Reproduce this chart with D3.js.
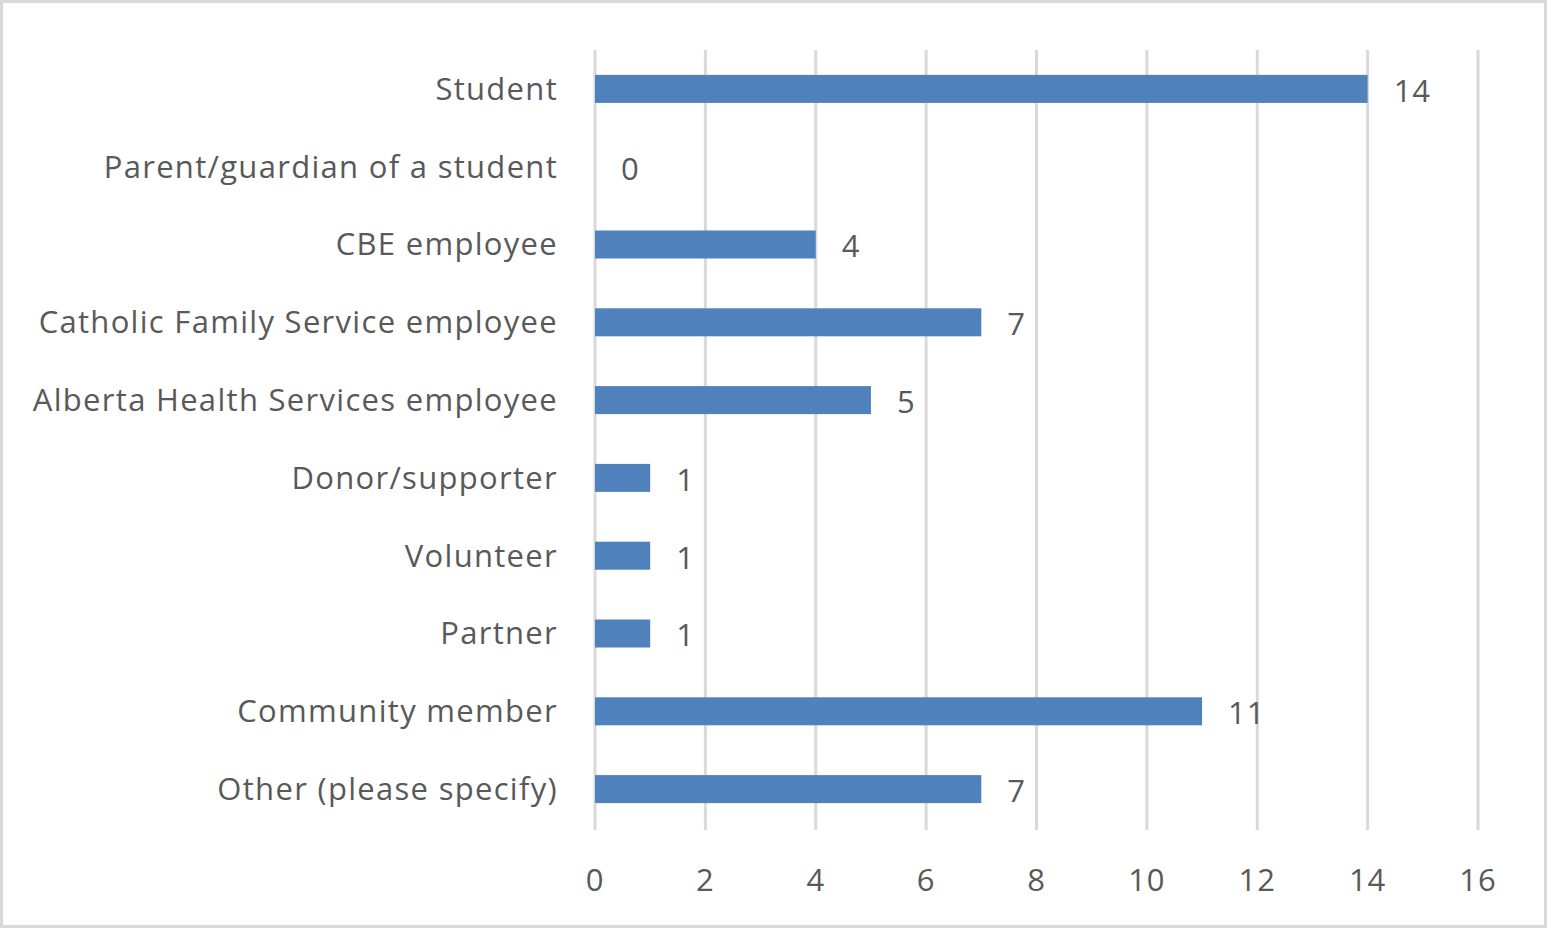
<!DOCTYPE html>
<html>
<head>
<meta charset="utf-8">
<script src="https://cdn.jsdelivr.net/npm/d3@7"></script>
<style>
  body { margin: 0; background: #fff; }
  svg { display: block; }
  text { font-family: "Open Sans", Lato, sans-serif; fill: #595959; }
</style>
</head>
<body>
<div id="chart"></div>
<script>
const categories = [
  'Student',
  'Parent/guardian of a student',
  'CBE employee',
  'Catholic Family Service employee',
  'Alberta Health Services employee',
  'Donor/supporter',
  'Volunteer',
  'Partner',
  'Community member',
  'Other (please specify)'
];
const counts = [14, 0, 4, 7, 5, 1, 1, 1, 11, 7];
const xTicks = [0, 2, 4, 6, 8, 10, 12, 14, 16];

const width = 1547;
const height = 928;
const margin = { top: 50, right: 69, bottom: 100, left: 595 };

const svg = d3.select('#chart')
  .append('svg')
  .attr('width', width)
  .attr('height', height);

// outer frame
svg.append('rect')
  .attr('x', 1.5).attr('y', 1.5)
  .attr('width', width - 3).attr('height', height - 3)
  .attr('fill', '#fff')
  .attr('stroke', '#d9d9d9')
  .attr('stroke-width', 3);

const x = d3.scaleLinear()
  .domain([0, 16])
  .range([margin.left, width - margin.right]);

const y = d3.scaleBand()
  .domain(categories)
  .range([margin.top, height - margin.bottom])
  .paddingInner(0.64)
  .paddingOuter(0.32);

// gridlines
svg.append('g')
  .selectAll('line')
  .data(xTicks)
  .enter()
  .append('line')
  .attr('x1', (d) => x(d))
  .attr('x2', (d) => x(d))
  .attr('y1', margin.top)
  .attr('y2', height - margin.bottom + 2)
  .attr('stroke', '#d9d9d9')
  .attr('stroke-width', 3);

// x tick labels
svg.append('g')
  .selectAll('text')
  .data(xTicks)
  .enter()
  .append('text')
  .attr('x', (d) => x(d))
  .attr('y', 880)
  .attr('dy', '0.35em')
  .style('text-anchor', 'middle')
  .style('font-size', '31px')
  .style('letter-spacing', '1px')
  .text((d) => d);

// bars
svg.append('g')
  .selectAll('rect')
  .data(categories)
  .enter()
  .append('rect')
  .attr('x', x(0))
  .attr('y', (d) => y(d))
  .attr('width', (d, i) => x(counts[i]) - x(0))
  .attr('height', y.bandwidth())
  .attr('fill', '#4f81bd');

// value labels
svg.append('g')
  .selectAll('text')
  .data(categories)
  .enter()
  .append('text')
  .attr('x', (d, i) => x(counts[i]) + 26)
  .attr('y', (d) => y(d) + y.bandwidth() / 2 + 2)
  .attr('dy', '0.35em')
  .style('font-size', '31px')
  .style('letter-spacing', '1px')
  .text((d, i) => counts[i]);

// category labels
svg.append('g')
  .selectAll('text')
  .data(categories)
  .enter()
  .append('text')
  .attr('x', 558)
  .attr('y', (d) => y(d) + y.bandwidth() / 2)
  .attr('dy', '0.35em')
  .style('text-anchor', 'end')
  .style('font-size', '31px')
  .style('letter-spacing', '1.3px')
  .text((d) => d);
</script>
</body>
</html>
